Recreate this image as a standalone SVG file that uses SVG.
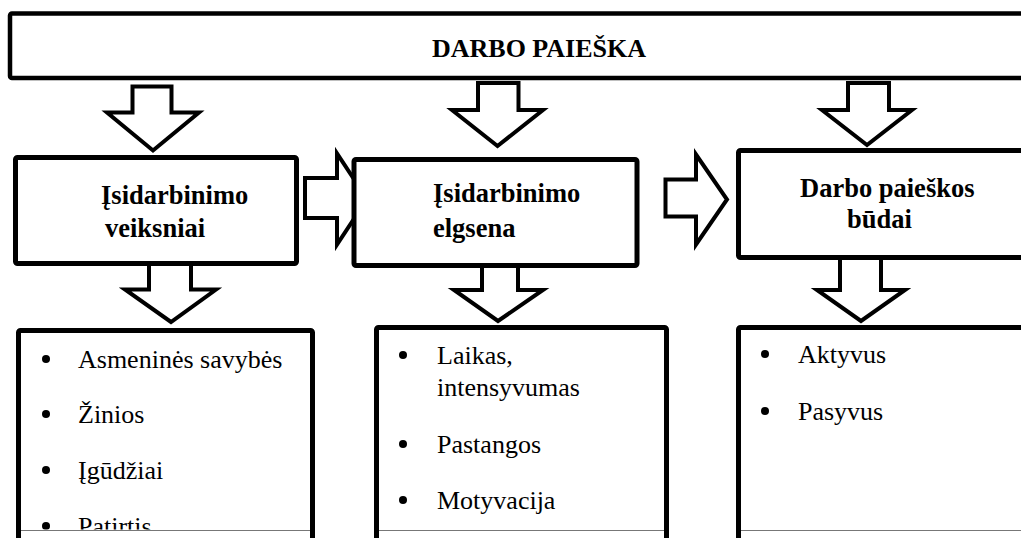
<svg xmlns="http://www.w3.org/2000/svg" width="1021" height="538" viewBox="0 0 1021 538">
<style>
.box{fill:#fff;stroke:#000;stroke-width:5;stroke-linejoin:round}
.arr{fill:#fff;stroke:#000;stroke-width:4;stroke-linejoin:miter}
.dot{fill:#000}
.cut{stroke:#777;stroke-width:1}
</style>
<defs>
<clipPath id="clipText"><rect x="0" y="0" width="1021" height="529.5"/></clipPath>
</defs>
<rect width="1021" height="538" fill="#fff"/>
<g id="connectors">
<path class="arr" d="M132.5,86.5 L171.5,86.5 L171.5,112.5 L199,112.5 L153,150.5 L107,112.5 L132.5,112.5 Z"/>
<path class="arr" d="M478,83 L518.5,83 L518.5,110 L543,110 L497.5,146 L452,110 L478,110 Z"/>
<path class="arr" d="M848,83 L889,83 L889,110 L912,110 L867,145 L822,110 L848,110 Z"/>
<path class="arr" d="M305,178 L337,178 L337,153.5 L367,199 L337,244.5 L337,218 L305,218 Z"/>
<path class="arr" d="M665.5,179.5 L696,179.5 L696,154.5 L727,199.5 L696,244.5 L696,216.5 L665.5,216.5 Z"/>
<path class="arr" d="M149,262 L191,262 L191,289.5 L216,289.5 L171,322 L125,289.5 L149,289.5 Z"/>
<path class="arr" d="M482,264 L518,264 L518,290 L543,290 L498,321 L454,290 L482,290 Z"/>
<path class="arr" d="M840,255 L881,255 L881,290 L905,290 L861,321 L817,290 L840,290 Z"/>
</g>
<g id="node-top">
<rect class="box" x="10" y="13.5" width="1030" height="64.5" rx="2" style="stroke-width:4.5"/>
<text x="539" y="57" text-anchor="middle" font-family="Liberation Serif" font-size="26" font-weight="bold">DARBO PAIEŠKA</text>
</g>
<g id="node-veiksniai">
<rect class="box" x="15.5" y="157.5" width="281" height="106" rx="2"/>
<text x="101" y="204" font-family="Liberation Serif" font-size="26.5" font-weight="bold">Įsidarbinimo</text>
<text x="105" y="237" font-family="Liberation Serif" font-size="26.5" font-weight="bold">veiksniai</text>
</g>
<g id="node-elgsena">
<rect class="box" x="354" y="159.5" width="283" height="106" rx="2"/>
<text x="433" y="202" font-family="Liberation Serif" font-size="26.5" font-weight="bold">Įsidarbinimo</text>
<text x="433" y="237" font-family="Liberation Serif" font-size="26.5" font-weight="bold">elgsena</text>
</g>
<g id="node-budai">
<rect class="box" x="738.5" y="150.5" width="300" height="107" rx="2"/>
<text x="800" y="197" font-family="Liberation Serif" font-size="26.5" font-weight="bold">Darbo paieškos</text>
<text x="847" y="228" font-family="Liberation Serif" font-size="26.5" font-weight="bold">būdai</text>
</g>
<g id="node-list-veiksniai">
<rect class="box" x="18.5" y="330.5" width="294" height="220" rx="2"/>
<line class="cut" x1="21" y1="530.5" x2="310" y2="530.5"/>
<g clip-path="url(#clipText)">
<circle class="dot" cx="46" cy="359" r="4"/><text x="78" y="368" font-family="Liberation Serif" font-size="26">Asmeninės savybės</text>
<circle class="dot" cx="46" cy="414" r="4"/><text x="78" y="423" font-family="Liberation Serif" font-size="26">Žinios</text>
<circle class="dot" cx="46" cy="470" r="4"/><text x="78" y="479" font-family="Liberation Serif" font-size="26">Įgūdžiai</text>
<circle class="dot" cx="46" cy="526" r="4"/><text x="78" y="535" font-family="Liberation Serif" font-size="26">Patirtis</text>
</g>
</g>
<g id="node-list-elgsena">
<rect class="box" x="376.5" y="327.5" width="290" height="220" rx="2"/>
<line class="cut" x1="379" y1="530.5" x2="664" y2="530.5"/>
<circle class="dot" cx="403" cy="355" r="4"/><text x="437" y="364" font-family="Liberation Serif" font-size="26">Laikas,</text>
<text x="437" y="396" font-family="Liberation Serif" font-size="26">intensyvumas</text>
<circle class="dot" cx="403" cy="444" r="4"/><text x="437" y="453" font-family="Liberation Serif" font-size="26">Pastangos</text>
<circle class="dot" cx="403" cy="500" r="4"/><text x="437" y="509" font-family="Liberation Serif" font-size="26">Motyvacija</text>
</g>
<g id="node-list-budai">
<rect class="box" x="738.5" y="327.5" width="300" height="220" rx="2"/>
<line class="cut" x1="741" y1="530.5" x2="1021" y2="530.5"/>
<circle class="dot" cx="765" cy="354" r="4"/><text x="798" y="363" font-family="Liberation Serif" font-size="26">Aktyvus</text>
<circle class="dot" cx="765" cy="411" r="4"/><text x="798" y="420" font-family="Liberation Serif" font-size="26">Pasyvus</text>
</g>
</svg>
